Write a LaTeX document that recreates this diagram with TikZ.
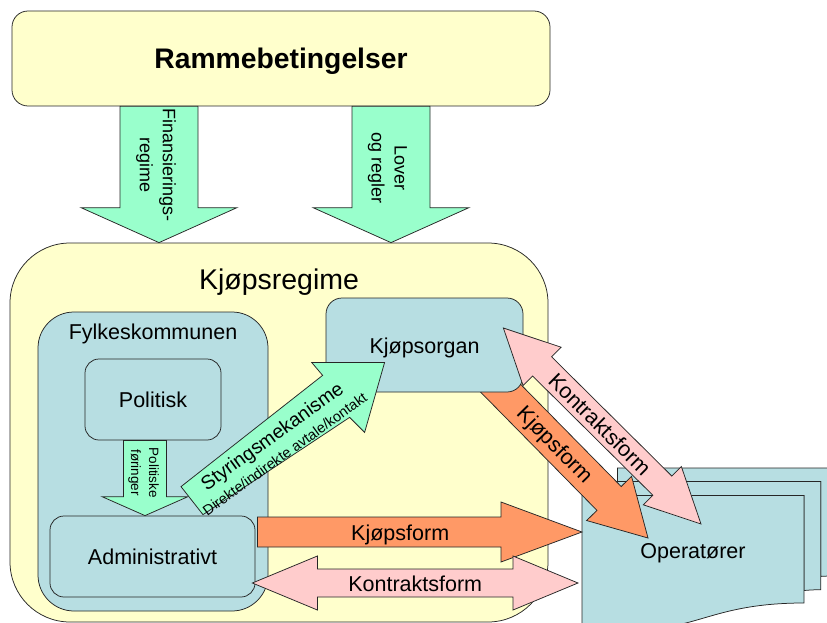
\documentclass[tikz,border=0pt]{standalone}
\usepackage{fontspec}
\setmainfont{Liberation Sans}
\usetikzlibrary{calc, positioning}
\pgfdeclarelayer{forgrunn}
\pgfsetlayers{main,forgrunn}

\definecolor{rammegul}{RGB}{255,255,204}
\definecolor{boksblaa}{RGB}{183,222,226}
\definecolor{pilgronn}{RGB}{153,255,204}
\definecolor{pilorange}{RGB}{255,153,102}
\definecolor{pilrosa}{RGB}{255,204,204}

% [stil]{fra}{til}{halvt skaft}{halvt hode}{hodelengde}
\newcommand{\blokkpil}[6][]{%
  \coordinate (hodeB) at ($(#3)!#6pt!(#2)$);
  \draw[pil, #1] ($(#2)!#4pt!90:(#3)$) -- ($(hodeB)!#4pt!90:(#3)$)
    -- ($(hodeB)!#5pt!90:(#3)$) -- (#3) -- ($(hodeB)!#5pt!-90:(#3)$)
    -- ($(hodeB)!#4pt!-90:(#3)$) -- ($(#2)!#4pt!-90:(#3)$) -- cycle;
}
\newcommand{\dobbelpil}[6][]{%
  \coordinate (hodeA) at ($(#2)!#6pt!(#3)$);
  \coordinate (hodeB) at ($(#3)!#6pt!(#2)$);
  \draw[pil, #1] (#2) -- ($(hodeA)!#5pt!90:(#3)$) -- ($(hodeA)!#4pt!90:(#3)$)
    -- ($(hodeB)!#4pt!90:(#3)$) -- ($(hodeB)!#5pt!90:(#3)$) -- (#3)
    -- ($(hodeB)!#5pt!-90:(#3)$) -- ($(hodeB)!#4pt!-90:(#3)$)
    -- ($(hodeA)!#4pt!-90:(#3)$) -- ($(hodeA)!#5pt!-90:(#3)$) -- cycle;
}

\begin{document}
\begin{tikzpicture}[x=1pt, y=-1pt,
    boks/.style={draw=black!85, line width=.75pt, inner sep=0pt},
    tekst/.style={inner sep=0pt, font=\fontsize{21.5}{25}\selectfont, text height=20.4pt, text depth=4.3pt},
    piltekst/.style={inner sep=0pt, align=center},
    pil/.style={draw=black!85, line width=.75pt}]

    \useasboundingbox (0,0) rectangle (827,623);

    \node[boks, fill=rammegul, rounded corners=16pt, minimum width=538pt, minimum height=95pt,
        font=\bfseries\fontsize{28.3}{32}\selectfont, text height=26.6pt, text depth=5.6pt] (ramme) at (281,58.5) {Rammebetingelser};
    \node[boks, fill=rammegul, rounded corners=60pt, minimum width=538pt, minimum height=379pt] (regime) at (279,432.5) {};
    \node[tekst, font=\fontsize{28.5}{32}\selectfont, text height=27pt, text depth=5.7pt, below=19.6pt of regime.north] (regimetekst) {Kjøpsregime};

    \coordinate (finA) at ($(ramme.south)+(-122,0)$);
    \coordinate (finB) at ($(regime.north)+(-120,0)$);
    \coordinate (lovA) at ($(ramme.south)+(110,0)$);
    \coordinate (lovB) at ($(regime.north)+(112,0)$);
    \blokkpil[fill=pilgronn]{finA}{finB}{39}{78}{35}
    \blokkpil[fill=pilgronn]{lovA}{lovB}{39}{78}{35}
    \node[piltekst, rotate=-90, font=\fontsize{18}{23}\selectfont] (fintekst) at ($(finA)!0.43!(finB)+(-3,0)$) {Finansierings-\\regime};
    \node[piltekst, rotate=-90, font=\fontsize{18}{23}\selectfont] (lovtekst) at ($(lovA)!0.45!(lovB)+(-3.5,0)$) {Lover\\og regler};

    % operatører
    \coordinate (ops) at (582,468);
    \begin{scope}[shift={(ops)}]
        \draw[boks, fill=boksblaa] (35.5,13.6) -- (35.5,0) -- (257.9,0) -- (257.9,107.8)
            .. controls (248.4,107.8) and (238.8,108.4) .. (238.8,108.4) -- (238.8,13.6) -- cycle;
        \draw[boks, fill=boksblaa] (18.3,27.5) -- (18.3,13.6) -- (238.8,13.6) -- (238.8,121.7)
            .. controls (230.4,121.7) and (222,122.5) .. (222,122.5) -- (222,27.5) -- cycle;
        \draw[boks, fill=boksblaa] (0,155.7) .. controls (111,176.4) and (111,135) .. (222,135)
            -- (222,27.5) -- (0,27.5) -- cycle;
    \end{scope}
    \node[tekst] (operatorer) at ($(ops)+(111,82)$) {Operatører};

    \node[boks, fill=boksblaa, rounded corners=36pt, minimum width=230pt, minimum height=299pt] (fylke) at (153,461.5) {};
    \node[tekst, below=7.6pt of fylke.north] (fylketekst) {Fylkeskommunen};
    \node[boks, tekst, fill=boksblaa, rounded corners=14pt, minimum width=136pt, minimum height=81pt] (politisk) at (153,399.5) {Politisk};
    \node[boks, tekst, fill=boksblaa, rounded corners=14pt, minimum width=205pt, minimum height=81pt] (admin) at (152.5,556.5) {Administrativt};

    \begin{pgfonlayer}{forgrunn}
        \node[boks, tekst, fill=boksblaa, rounded corners=16pt, minimum width=197pt, minimum height=94pt] (organ) at (424.5,345) {Kjøpsorgan};
    \end{pgfonlayer}

    \coordinate (polA) at ($(politisk.south)+(-8,0)$);
    \coordinate (polB) at ($(admin.north)+(-7.5,0)$);
    \blokkpil[fill=pilgronn]{polA}{polB}{21.5}{43}{19}
    \node[piltekst, rotate=-90, font=\fontsize{13.5}{18}\selectfont] (poltekst) at ($(polA)!0.43!(polB)+(-1.5,0)$) {Politiske\\føringer};

    \coordinate (ohA) at ($(admin.east)+(2,-24.5)$);
    \coordinate (ohB) at ($(ops)+(0,64)$);
    \blokkpil[fill=pilorange]{ohA}{ohB}{15}{30}{81}
    \node[tekst] (ohtekst) at ($(ohA)!0.44!(ohB)$) {Kjøpsform};

    \coordinate (phA) at ($(admin.east)+(-3,26.5)$);
    \coordinate (phB) at ($(ops)+(-4,115)$);
    \dobbelpil[fill=pilrosa]{phA}{phB}{14}{27}{65}
    \node[tekst] (phtekst) at ($(phA)!0.5!(phB)$) {Kontraktsform};

    \coordinate (odA) at ($(organ.south east)+(-60,-42)$);
    \coordinate (odB) at ($(ops)+(66,70)$);
    \blokkpil[fill=pilorange]{odA}{odB}{17}{31.5}{55.5}
    \node[tekst, rotate=-45.5] (odtekst) at ($(odA)!0.5!(odB)$) {Kjøpsform};

    \begin{pgfonlayer}{forgrunn}
        \coordinate (pdA) at ($(organ.east)+(-20,-17)$);
        \coordinate (pdB) at ($(ops)+(119,56)$);
        \dobbelpil[fill=pilrosa]{pdA}{pdB}{13.5}{27}{54.5}
        \node[tekst, rotate=-44.7] (pdtekst) at ($(pdA)!0.49!(pdB)$) {Kontraktsform};

        \coordinate (styrA) at ($(admin.north)+(39.5,-15)$);
        \coordinate (styrB) at ($(organ.south west)+(59,-30)$);
        \draw[pil, fill=pilgronn] ($(styrA)+(-11,-14)$) -- ($(styrB)+(-62,13)$) -- ($(styrB)+(-73,0)$) -- (styrB)
            -- ($(styrB)+(-20,70)$) -- ($(styrB)+(-35,55)$) -- ($(styrA)+(11,14)$) -- cycle;
        \node[piltekst, rotate=35.8, font=\fontsize{19.5}{20.4}\selectfont] (styrtekst) at ($(styrA)!0.445!(styrB)+(0,5)$)
            {Styringsmekanisme\\{\fontsize{14.5}{20.4}\selectfont Direkte/indirekte avtale/kontakt}};
    \end{pgfonlayer}
\end{tikzpicture}
\end{document}
